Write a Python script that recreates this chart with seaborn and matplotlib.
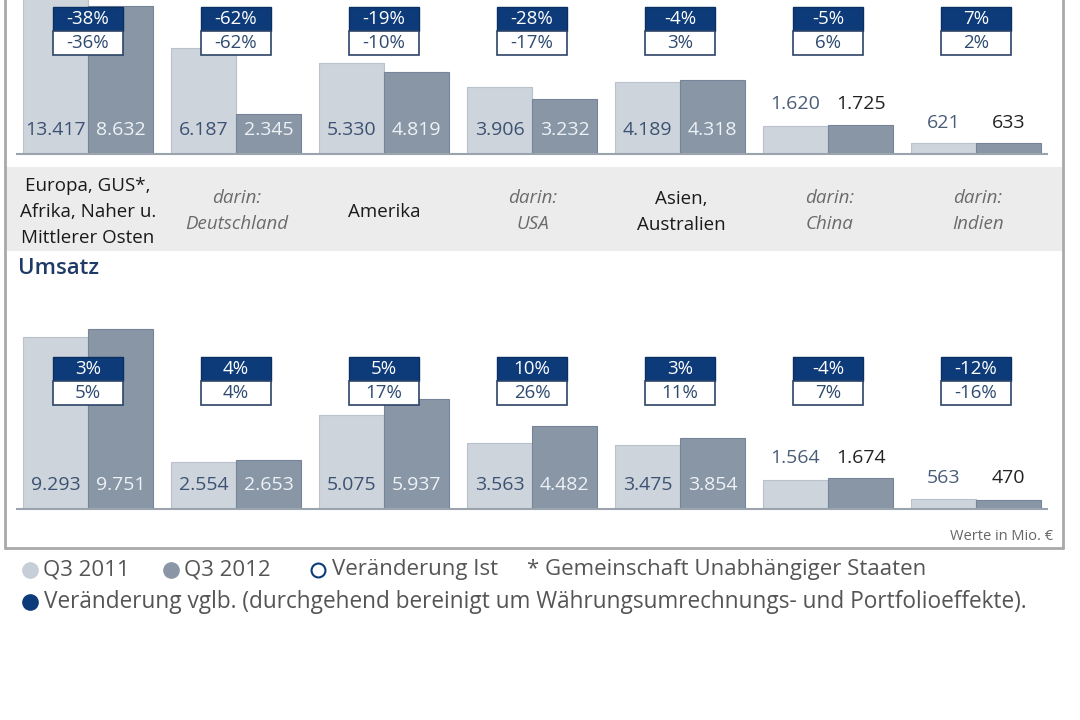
import numpy as np
import pandas as pd
import matplotlib
matplotlib.use("Agg")
import matplotlib.pyplot as plt
import seaborn as sns
from matplotlib.patches import Rectangle

regions = ["Europa, GUS*,\nAfrika, Naher u.\nMittlerer Osten", "darin:\nDeutschland", "Amerika",
           "darin:\nUSA", "Asien,\nAustralien", "darin:\nChina", "darin:\nIndien"]
is_sub = [False, True, False, True, False, True, True]
quarters = ["Q3 2011", "Q3 2012"]

auftrag_2011 = [13417, 6187, 5330, 3906, 4189, 1620, 621]
auftrag_2012 = [8632, 2345, 4819, 3232, 4318, 1725, 633]
auftrag_vglb = [-38, -62, -19, -28, -4, -5, 7]
auftrag_ist = [-36, -62, -10, -17, 3, 6, 2]

umsatz_2011 = [9293, 2554, 5075, 3563, 3475, 1564, 563]
umsatz_2012 = [9751, 2653, 5937, 4482, 3854, 1674, 470]
umsatz_vglb = [3, 4, 5, 10, 3, -4, -12]
umsatz_ist = [5, 4, 17, 26, 11, 7, -16]

sns.set_theme(style="white")
plt.rcParams['font.family'] = ['Open Sans', 'DejaVu Sans']

W, H = 1080, 720
light, dark = "#cdd4dc", "#8896a6"
navy = "#0d3b7a"
fig = plt.figure(figsize=(10.8, 7.2), dpi=100)

def rect(x0, y0, x1, y1):
    return [x0 / W, 1 - y1 / H, (x1 - x0) / W, (y1 - y0) / H]

# background layer in pixel coordinates
bg = fig.add_axes([0, 0, 1, 1])
bg.set_xlim(0, W)
bg.set_ylim(H, 0)
bg.axis("off")
bg.add_patch(Rectangle((6, 167), 1056, 84, color="#ececec", lw=0))
for xs, ys in [([5, 5], [-5, 548]), ([1063, 1063], [-5, 548]), ([5, 1063], [548, 548])]:
    bg.plot(xs, ys, color="#a9a9a9", lw=2)

for i, name in enumerate(regions):
    x = 88 + i * 148.3
    if is_sub[i]:
        bg.text(x, 211, name, ha="center", va="center", fontsize=13.5, style="italic",
                color="#6b6b6b", linespacing=1.6)
    else:
        bg.text(x, 212, name, ha="center", va="center", fontsize=13.5, color="#1a1a1a",
                linespacing=1.6)

bg.text(18, 268, "Umsatz", ha="left", va="center", fontsize=16, fontweight="semibold", color="#1f3a66")
bg.text(1053, 537, "Werte in Mio. €", ha="right", va="center", fontsize=10.5, color="#666666")

# legend
bg.plot(30, 570, "o", ms=11, color="#c6ced8", mec="#c6ced8")
bg.text(43, 570, "Q3 2011", va="center", fontsize=16, color="#555555")
bg.plot(171, 570, "o", ms=11, color="#8a96a5", mec="#8a96a5")
bg.text(184, 570, "Q3 2012", va="center", fontsize=16, color="#555555")
bg.plot(318, 570, "o", ms=10, mfc="white", mec="#0d3b7a", mew=1.5)
bg.text(332, 570, "Veränderung Ist", va="center", fontsize=16, color="#555555")
bg.text(527, 570, "* Gemeinschaft Unabhängiger Staaten", va="center", fontsize=16, color="#555555")
bg.plot(30, 602, "o", ms=11, color=navy, mec=navy)
bg.text(44, 602, "Veränderung vglb. (durchgehend bereinigt um Währungsumrechnungs- und Portfolioeffekte).",
        va="center", fontsize=16.3, color="#555555")


def fmt(v):
    return f"{v:,}".replace(",", ".")


def panel(box, ymax, v11, v12, vglb, ist, dark_box, white_box):
    ax = fig.add_axes(rect(*box))
    df = pd.DataFrame({"region": regions * 2,
                       "quarter": [quarters[0]] * 7 + [quarters[1]] * 7,
                       "value": v11 + v12})
    sns.barplot(data=df, x="region", y="value", hue="quarter", palette=[light, dark],
                width=0.88, saturation=1, legend=False, ax=ax, linewidth=0.8)
    for c, ec in zip(ax.containers, ["#b9c1cb", "#76849a"]):
        for b in c:
            b.set_edgecolor(ec)
    ax.set_xlim(-0.48, 6.48)
    ax.set_ylim(0, ymax)
    ax.patch.set_alpha(0)
    for s in ["top", "left", "right"]:
        ax.spines[s].set_visible(False)
    ax.spines["bottom"].set_color("#9ba4ae")
    ax.spines["bottom"].set_linewidth(1.5)
    ax.set_xticks([])
    ax.set_yticks([])
    ax.set_xlabel("")
    ax.set_ylabel("")

    inside_col = ["#3c5272", "#eef2f6"]
    above_col = ["#4a5d78", "#222222"]
    vals = [v11, v12]
    for k, c in enumerate(ax.containers):
        for i, b in enumerate(c):
            xc = b.get_x() + b.get_width() / 2
            v = vals[k][i]
            if v >= 2000:
                ax.annotate(fmt(v), (xc, 0), xytext=(0, 17), textcoords="offset points",
                            ha="center", va="center", fontsize=14, color=inside_col[k])
            else:
                top = max(v11[i], v12[i])
                ax.annotate(fmt(v), (xc, top), xytext=(0, 8), textcoords="offset points",
                            ha="center", va="bottom", fontsize=14, color=above_col[k])

    tr = ax.get_xaxis_transform()
    bw = 0.473
    for i in range(len(regions)):
        y0, y1 = dark_box
        ax.add_patch(Rectangle((i - bw / 2, y0), bw, y1 - y0, transform=tr, facecolor=navy,
                               edgecolor="#0a2f62", lw=1, clip_on=False, zorder=5))
        ax.text(i, (y0 + y1) / 2, f"{vglb[i]}%", transform=tr, ha="center", va="center",
                fontsize=13.5, color="white", zorder=6)
        y0, y1 = white_box
        ax.add_patch(Rectangle((i - bw / 2, y0), bw, y1 - y0, transform=tr, facecolor="white",
                               edgecolor="#2c4468", lw=1.2, clip_on=False, zorder=5))
        ax.text(i, (y0 + y1) / 2, f"{ist[i]}%", transform=tr, ha="center", va="center",
                fontsize=13.5, color="#2f4a70", zorder=6)
    return ax


panel((17, 0, 1047, 154), 154 / 0.0171, auftrag_2011, auftrag_2012, auftrag_vglb, auftrag_ist,
      (0.799, 0.955), (0.643, 0.799))
panel((17, 290, 1047, 509), 219 / 0.01848, umsatz_2011, umsatz_2012, umsatz_vglb, umsatz_ist,
      (0.584, 0.694), (0.475, 0.584))

fig.savefig("out.png", dpi=100)
